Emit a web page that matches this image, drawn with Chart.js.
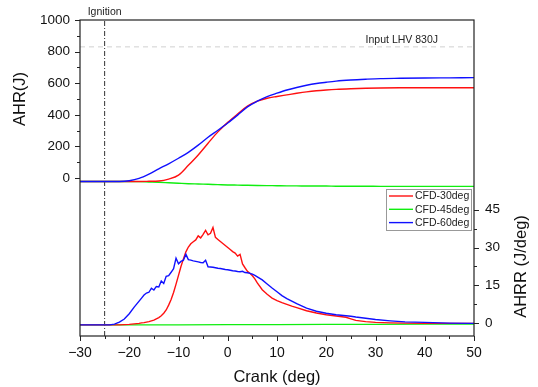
<!DOCTYPE html>
<html>
<head>
<meta charset="utf-8">
<script src="https://cdn.jsdelivr.net/npm/chart.js@4.4.0/dist/chart.umd.min.js"></script>
<style>
    html, body { margin: 0; padding: 0; background: #fff; }
    canvas { display: block; }
</style>
</head>
<body>
<canvas id="heatChart" width="538" height="387"></canvas>
<script>
// AHR (J), crank angle in deg
const crankA = [-30, -25, -22, -20, -18, -16, -14, -12, -10, -8, -6, -4, -2, 0, 2, 4,
    6, 8, 10, 12, 14, 16, 18, 20, 22, 25, 28, 31, 35, 40, 45, 50];
const ahr30 = [-22, -22, -22, -22, -22, -21, -19, -7, 18, 80, 146, 220, 292, 352, 405, 455,
    486, 505, 516, 526, 536, 545, 552, 557, 561, 565, 568, 570, 571, 571, 571, 571];
const ahr45 = [-22, -22, -22, -22, -23, -25, -27, -30, -33, -36, -38, -40, -42, -44, -45, -46,
    -47, -48, -49, -50, -50, -51, -51, -51, -52, -52, -52, -53, -53, -53, -53, -53];
const ahr60 = [-22, -22, -22, -17, -2, 25, 58, 90, 125, 162, 208, 258, 302, 348, 398, 450,
    486, 515, 537, 557, 573, 587, 598, 606, 613, 620, 625, 629, 631, 633, 634, 635];

// AHRR (J/deg)
const crankR = [-30, -26, -24, -23, -22, -21, -20, -19, -18,
    -17.5, -17, -16.5, -16, -15.5, -15, -14.5, -14, -13.5, -13,
    -12.5, -12, -11.5, -11, -10.5, -10, -9.5, -9, -8.5, -8,
    -7.5, -7, -6.5, -6, -5.5, -5, -4.5, -4, -3.5, -3,
    -2.5, -2, -1.5, -1, -0.5, 0, 0.5, 1, 1.5, 2,
    2.5, 3, 3.5, 4, 4.5, 5, 5.5, 6, 7, 8,
    9, 10, 11, 12, 13, 14, 16, 18, 20, 22,
    24, 25, 26, 28, 30, 33, 36, 40, 45, 50];
const ahrr30 = [-0.6, -0.6, -0.6, -0.6, -0.6, -0.5, -0.4, -0.2, 0.0,
    0.2, 0.3, 0.5, 0.7, 1.0, 1.3, 1.8, 2.3, 3.0, 4.0,
    5.3, 7.2, 9.4, 12.2, 15.5, 19.0, 22.5, 25.5, 28.3, 30.2,
    31.5, 32.3, 33.0, 34.6, 33.8, 35.2, 36.8, 35.0, 35.6, 37.9,
    34.0, 33.2, 32.4, 31.6, 30.8, 30.0, 29.2, 28.4, 27.8, 26.6,
    27.3, 23.5, 22.0, 20.6, 19.8, 18.8, 17.6, 16.0, 13.3, 11.5,
    10.0, 9.0, 8.2, 7.5, 6.8, 6.2, 5.0, 4.1, 3.4, 2.9,
    2.4, 1.8, 1.2, 0.7, 0.4, 0.2, 0.1, 0.0, 0.0, 0.0];
const ahrr60 = [-0.6, -0.6, -0.6, -0.3, 0.5, 1.7, 3.8, 6.4, 8.8,
    10.0, 11.2, 12.0, 12.3, 13.9, 13.2, 14.6, 14.4, 16.8, 15.8,
    18.6, 18.9, 20.2, 21.6, 25.8, 23.6, 24.5, 25.0, 27.3, 25.2,
    25.0, 24.7, 24.5, 24.3, 24.1, 24.0, 25.0, 22.4, 22.3, 22.2,
    22.0, 21.8, 21.7, 21.5, 21.3, 21.2, 21.0, 20.8, 20.7, 20.5,
    20.4, 20.6, 20.1, 20.0, 19.8, 19.5, 19.0, 18.4, 17.2, 15.6,
    14.0, 12.5, 11.0, 9.8, 8.8, 7.8, 6.0, 4.8, 4.0, 3.4,
    3.0, 2.8, 2.5, 2.0, 1.5, 1.0, 0.6, 0.4, 0.1, 0.0];
const crankG = [-30, -20, -10, 0, 10, 20, 30, 40, 50];
const ahrr45 = [-0.6, -0.6, -0.6, -0.5, -0.5, -0.4, -0.4, -0.3, -0.3];

const legendLabels = ["CFD-30deg", "CFD-45deg", "CFD-60deg"];
const lineColors = ["#ff1010", "#10ee10", "#1010ff"];
const ignitionCrank = -25;
const lhvJ = 830;

const xMajor = [-30, -20, -10, 0, 10, 20, 30, 40, 50];
const xMinor = [-25, -15, -5, 5, 15, 25, 35, 45];
const leftMajor = [0, 200, 400, 600, 800, 1000];
const leftMinor = [100, 300, 500, 700, 900];
const rightMajor = [0, 15, 30, 45];
const rightMinor = [7.5, 22.5, 37.5];

const FONT = "'Liberation Sans', Arial, sans-serif";
Chart.defaults.color = "#111";
Chart.defaults.font.family = FONT;

const pts = (xs, ys) => xs.map((x, i) => ({ x: x, y: ys[i] }));
const minus = v => (v < 0 ? "\u2212" + Math.abs(v) : String(v));
const setTicks = list => scale => { scale.ticks = list.map(v => ({ value: v })); };

function curve(label, xs, ys, color, axis, smooth) {
    return {
        label: label,
        data: pts(xs, ys),
        borderColor: color,
        borderWidth: 1.4,
        pointRadius: 0,
        yAxisID: axis,
        tension: 0,
        cubicInterpolationMode: smooth ? "monotone" : "default"
    };
}

// axis frame, tick marks, titles, notes and legend
const decorations = {
    id: "decorations",
    afterDraw(chart) {
        const { ctx, chartArea: a, scales } = chart;
        const xs = scales.x, yl = scales.yL, yr = scales.yR;
        ctx.save();
        ctx.strokeStyle = "#222";
        ctx.lineWidth = 1.2;
        ctx.strokeRect(a.left, a.top, a.right - a.left, a.bottom - a.top);

        ctx.lineWidth = 1;
        ctx.beginPath();
        xs.ticks.forEach(t => {
            const p = Math.round(xs.getPixelForValue(t.value)) + 0.5;
            const len = xMajor.includes(t.value) ? 5 : 3;
            ctx.moveTo(p, a.bottom); ctx.lineTo(p, a.bottom + len);
        });
        yl.ticks.forEach(t => {
            const p = Math.round(yl.getPixelForValue(t.value)) + 0.5;
            const len = leftMajor.includes(t.value) ? 5 : 3;
            ctx.moveTo(a.left, p); ctx.lineTo(a.left - len, p);
        });
        yr.ticks.forEach(t => {
            const p = Math.round(yr.getPixelForValue(t.value)) + 0.5;
            const len = rightMajor.includes(t.value) ? 5 : 3;
            ctx.moveTo(a.right, p); ctx.lineTo(a.right + len, p);
        });
        ctx.stroke();

        ctx.fillStyle = "#111";
        ctx.textAlign = "center";
        ctx.textBaseline = "middle";
        ctx.font = "16.5px " + FONT;
        ctx.fillText("Crank (deg)", (a.left + a.right) / 2, 377);

        ctx.save();
        ctx.translate(20, (yl.getPixelForValue(0) + yl.getPixelForValue(1000)) / 2);
        ctx.rotate(-Math.PI / 2);
        ctx.fillText("AHR(J)", 0, 0);
        ctx.restore();

        ctx.save();
        ctx.translate(521.5, (yr.getPixelForValue(0) + yr.getPixelForValue(45)) / 2);
        ctx.rotate(-Math.PI / 2);
        ctx.fillText("AHRR (J/deg)", 0, 0);
        ctx.restore();

        ctx.font = "10.5px " + FONT;
        ctx.fillStyle = "#222";
        ctx.fillText("Ignition", xs.getPixelForValue(ignitionCrank), a.top - 8);
        ctx.textAlign = "right";
        ctx.fillText("Input LHV 830J", a.right - 36, yl.getPixelForValue(lhvJ) - 7);

        // legend box
        const bx = a.right - 88, by = a.top + 169, bw = 85, bh = 41;
        ctx.fillStyle = "#fff";
        ctx.fillRect(bx, by, bw, bh);
        ctx.strokeStyle = "#999";
        ctx.strokeRect(bx + 0.5, by + 0.5, bw, bh);
        ctx.textAlign = "left";
        legendLabels.forEach((lab, i) => {
            const yy = by + 7 + i * 13.3;
            ctx.strokeStyle = lineColors[i];
            ctx.lineWidth = 1.4;
            ctx.beginPath();
            ctx.moveTo(bx + 3, yy); ctx.lineTo(bx + 27, yy);
            ctx.stroke();
            ctx.fillStyle = "#222";
            ctx.fillText(lab, bx + 29, yy + 0.5);
        });
        ctx.restore();
    }
};

const ctx = document.getElementById("heatChart").getContext("2d");
const chart = new Chart(ctx, {
    type: "line",
    data: {
        datasets: [
            curve("CFD-60deg AHRR", crankR, ahrr60, lineColors[2], "yR", false),
            curve("CFD-60deg AHR", crankA, ahr60, lineColors[2], "yL", true),
            curve("CFD-30deg AHRR", crankR, ahrr30, lineColors[0], "yR", false),
            curve("CFD-30deg AHR", crankA, ahr30, lineColors[0], "yL", true),
            curve("CFD-45deg AHRR", crankG, ahrr45, lineColors[1], "yR", false),
            curve("CFD-45deg AHR", crankA, ahr45, lineColors[1], "yL", true),
            {
                label: "Ignition",
                data: [{ x: ignitionCrank, y: -1000 }, { x: ignitionCrank, y: 1000 }],
                borderColor: "#333",
                borderWidth: 1,
                borderDash: [5, 2, 1, 2],
                pointRadius: 0,
                yAxisID: "yL"
            },
            {
                label: "LHV",
                data: [{ x: -30, y: lhvJ }, { x: 50, y: lhvJ }],
                borderColor: "#d0d0d0",
                borderWidth: 1,
                borderDash: [5, 4],
                pointRadius: 0,
                yAxisID: "yL"
            }
        ]
    },
    options: {
        responsive: false,
        animation: false,
        devicePixelRatio: 1,
        layout: { padding: { top: 20, left: 0, right: 0, bottom: 0 } },
        scales: {
            x: {
                type: "linear",
                min: -30,
                max: 50,
                afterBuildTicks: setTicks(xMajor.concat(xMinor)),
                afterFit: s => { s.height = 51; },
                grid: { drawOnChartArea: false, color: "transparent", tickLength: 5 },
                border: { display: false },
                ticks: {
                    padding: 4,
                    maxRotation: 0,
                    autoSkip: false,
                    font: { size: 14 },
                    callback: v => (xMajor.includes(v) ? minus(v) : "")
                }
            },
            yL: {
                type: "linear",
                position: "left",
                min: -1000,
                max: 1000,
                afterBuildTicks: setTicks(leftMajor.concat(leftMinor)),
                afterFit: s => { s.width = 80; },
                grid: { drawOnChartArea: false, color: "transparent", tickLength: 5 },
                border: { display: false },
                ticks: {
                    padding: 5,
                    autoSkip: false,
                    font: { size: 13.5 },
                    callback: v => (leftMajor.includes(v) ? String(v) : "")
                }
            },
            yR: {
                type: "linear",
                position: "right",
                min: -5,
                max: 120,
                afterBuildTicks: setTicks(rightMajor.concat(rightMinor)),
                afterFit: s => { s.width = 64; },
                grid: { drawOnChartArea: false, color: "transparent", tickLength: 5 },
                border: { display: false },
                ticks: {
                    padding: 6,
                    autoSkip: false,
                    font: { size: 13.5 },
                    callback: v => (rightMajor.includes(v) ? String(v) : "")
                }
            }
        },
        plugins: {
            legend: { display: false },
            tooltip: { enabled: false }
        }
    },
    plugins: [decorations]
});
</script>
</body>
</html>
